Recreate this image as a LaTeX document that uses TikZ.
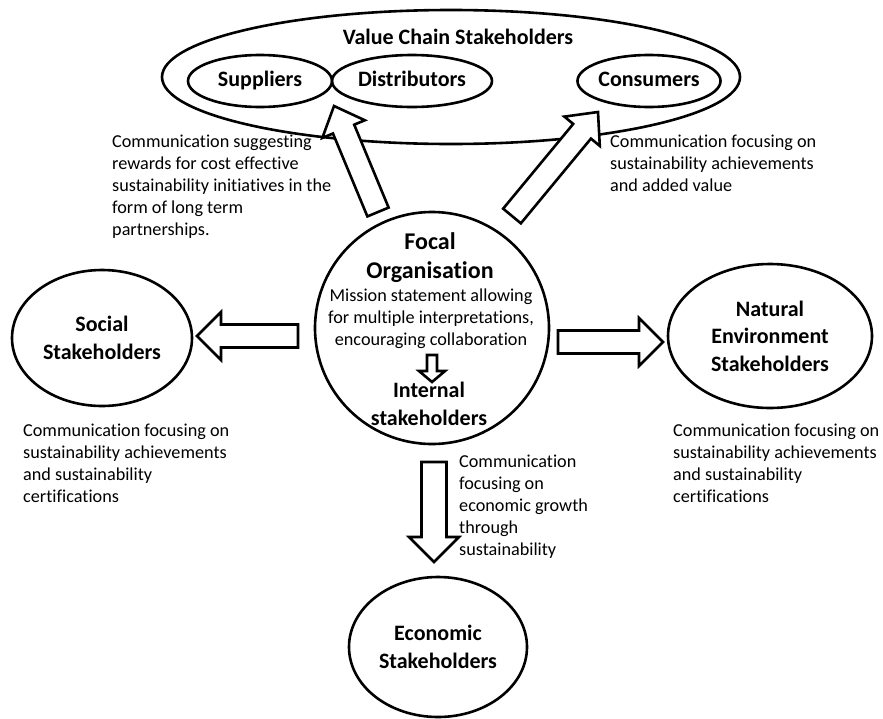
\documentclass[tikz,border=0pt]{standalone}
\usepackage{fontspec}
\setmainfont{Carlito}[Ligatures=NoCommon]
\usetikzlibrary{calc,shapes.geometric}
% block arrow: tail, tip, half shaft width, half head width, head length
\newcommand{\blkarrow}[5]{%
  \coordinate (#1-hb) at ($(#2)!#5!(#1)$);
  \draw[bar] ($(#1)!#3!90:(#2)$) -- ($(#1-hb)!#3!90:(#2)$) -- ($(#1-hb)!#4!90:(#2)$) -- (#2)
    -- ($(#1-hb)!#4!-90:(#2)$) -- ($(#1-hb)!#3!-90:(#2)$) -- ($(#1)!#3!-90:(#2)$) -- cycle;}
\begin{document}
\begin{tikzpicture}[x=1pt,y=-1pt,
  ell/.style={draw, line width=2.6pt, ellipse, inner sep=0pt},
  bar/.style={draw, line width=2.6pt, fill=white, line join=miter},
  body/.style={font=\fontsize{18.2}{22}\selectfont, align=left, inner sep=0pt},
  boldtxt/.style={font=\fontsize{22}{27.5}\selectfont\bfseries, align=center, inner sep=0pt}]
\useasboundingbox[fill=white] (0,0) rectangle (883,718);

% value chain
\node[ell, minimum width=578, minimum height=134] (vc) at (451,77) {};
\node[boldtxt] (vct) at (458,37) {Value Chain Stakeholders};
\node[ell, boldtxt, minimum width=144, minimum height=52] (sup) at (260,81) {Suppliers\vphantom{lp}};
\node[ell, boldtxt, minimum width=160, minimum height=52] (dis) at (412,81) {Distributors\vphantom{lp}};
\node[ell, boldtxt, minimum width=138, minimum height=52] (con) at (649,81) {Consumers\vphantom{lp}};

% focal organisation
\node[ell, minimum width=234, minimum height=232] (foc) at (432,328) {};
\node[boldtxt, font=\fontsize{24}{29}\selectfont\bfseries] (foct) at (430,258) {Focal\\Organisation};
\node[body, align=center, anchor=north] (mis) at (431,289) {Mission statement allowing\\for multiple interpretations,\\encouraging collaboration};
\node[boldtxt] (int) at (429,404) {Internal\\stakeholders};

% other stakeholders
\node[ell, boldtxt, minimum width=180, minimum height=136] (soc) at (102,338) {Social\\Stakeholders};
\node[ell, boldtxt, minimum width=204, minimum height=144] (nat) at (770,336) {Natural\\Environment\\Stakeholders};
\node[ell, boldtxt, minimum width=178, minimum height=140] (eco) at (438,647) {Economic\\Stakeholders};

% texts
\node[body, anchor=north west] (t1) at (112,135) {Communication suggesting\\rewards for cost effective\\sustainability initiatives in the\\form of long term\\partnerships.};
\node[body, anchor=north west] (t2) at (610,135) {Communication focusing on\\sustainability achievements\\and added value};
\node[body, anchor=north west] (t3) at (23,424) {Communication focusing on\\sustainability achievements\\and sustainability\\certifications};
\node[body, anchor=north west] (t4) at (673,424) {Communication focusing on\\sustainability achievements\\and sustainability\\certifications};
\node[body, anchor=north west] (t5) at (459,455) {Communication\\focusing on\\economic growth\\through\\sustainability};

% block arrows
\coordinate (a1t) at (378,212); \coordinate (a1h) at (334,106);
\coordinate (a2t) at (512,216); \coordinate (a2h) at (598,112);
\coordinate (a3t) at (298,336); \coordinate (a3h) at (197,336);
\coordinate (a4t) at (558,342); \coordinate (a4h) at (663,342);
\coordinate (a5t) at (432,355); \coordinate (a5h) at (432,382);
\coordinate (a6t) at (434,462); \coordinate (a6h) at (434,562);
\blkarrow{a1t}{a1h}{11.5pt}{23pt}{25pt}
\blkarrow{a2t}{a2h}{11.5pt}{23pt}{25pt}
\blkarrow{a3t}{a3h}{11.5pt}{24pt}{24pt}
\blkarrow{a4t}{a4h}{11.5pt}{24pt}{24pt}
\blkarrow{a5t}{a5h}{5pt}{13pt}{11pt}
\blkarrow{a6t}{a6h}{12.5pt}{25pt}{25pt}
\end{tikzpicture}
\end{document}
